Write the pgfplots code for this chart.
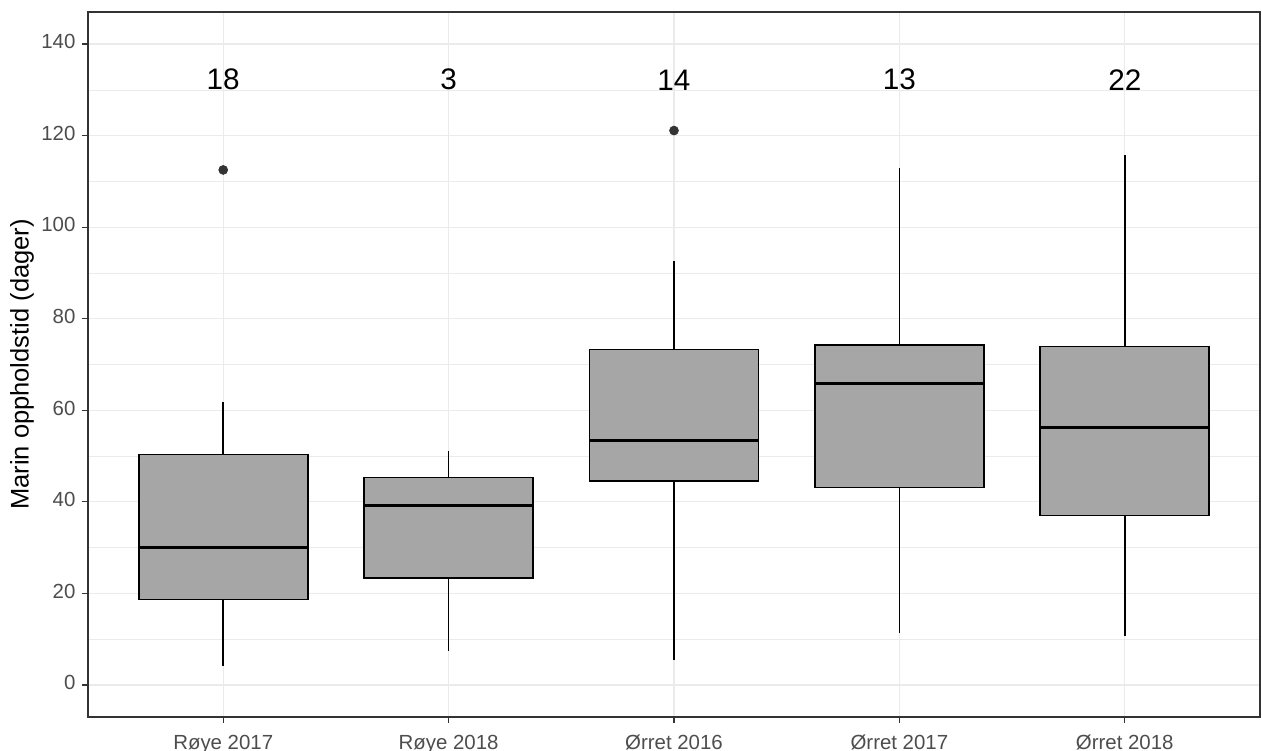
\documentclass[border=0pt]{standalone}
\usepackage{pgfplots}
\pgfplotsset{compat=1.18}
\usepgfplotslibrary{statistics}
\usepackage{fontspec}
\setmainfont{Liberation Sans}
\definecolor{gridc}{HTML}{EBEBEB}
\definecolor{boxc}{HTML}{A6A6A6}
\definecolor{tickc}{HTML}{4D4D4D}
\definecolor{framec}{HTML}{333333}
\pgfplotsset{
  mybox/.style={draw=black, line width=0.8bp, fill=boxc, mark=*, mark size=2.2bp,
    mark options={fill=framec, draw=framec, line width=0.4bp}},
}
\begin{document}
\begin{tikzpicture}
\useasboundingbox (-44bp,-17bp) rectangle (587bp,358.5bp);
\begin{axis}[
  scale only axis, width=586bp, height=352.5bp,
  xmin=0.4, xmax=5.6, ymin=-7, ymax=147,
  xtick={1,2,3,4,5},
  xticklabels={Røye 2017, Røye 2018, Ørret 2016, Ørret 2017, Ørret 2018},
  typeset ticklabels with strut,
  ytick={0,20,...,140}, minor ytick={10,30,...,130},
  grid=both,
  major grid style={gridc, line width=0.55bp},
  minor grid style={gridc, line width=0.3bp},
  axis line style={framec, line width=0.55bp},
  tick style={framec, line width=0.55bp},
  tick align=outside, tick pos=left,
  major tick length=2.75bp, minor tick length=0pt,
  tick label style={tickc, font=\fontsize{10.25}{12}\selectfont},
  xticklabel style={yshift=-1.5bp},
  /pgf/number format/assume math mode=true,
  ylabel={Marin oppholdstid (dager)},
  ylabel style={font=\fontsize{12.8}{14}\selectfont, at={(axis description cs:0,0.5)}, anchor=center, yshift=33bp},
  boxplot/draw direction=y,
  boxplot/box extend=0.75,
  boxplot/whisker extend=0,
  boxplot/every median/.style={line width=1.5bp},
]
\addplot[mybox, boxplot prepared={draw direction=y, draw position=1, lower whisker=4.2, lower quartile=18.7, median=30.0, upper quartile=50.3, upper whisker=61.8}]
  table[row sep=\\, y index=0] {data\\ 112.5\\};
\addplot[mybox, boxplot prepared={draw direction=y, draw position=2, lower whisker=7.4, lower quartile=23.3, median=39.3, upper quartile=45.3, upper whisker=51.1}]
  coordinates {};
\addplot[mybox, boxplot prepared={draw direction=y, draw position=3, lower whisker=5.5, lower quartile=44.6, median=53.4, upper quartile=73.3, upper whisker=92.7}]
  table[row sep=\\, y index=0] {data\\ 121.1\\};
\addplot[mybox, boxplot prepared={draw direction=y, draw position=4, lower whisker=11.3, lower quartile=43.1, median=65.9, upper quartile=74.3, upper whisker=112.9}]
  coordinates {};
\addplot[mybox, boxplot prepared={draw direction=y, draw position=5, lower whisker=10.6, lower quartile=37.0, median=56.2, upper quartile=73.9, upper whisker=115.8}]
  coordinates {};
\node[font=\fontsize{14.9}{16}\selectfont, text height=0.72em] at (axis cs:1,131.5) {18};
\node[font=\fontsize{14.9}{16}\selectfont, text height=0.72em] at (axis cs:2,131.5) {3};
\node[font=\fontsize{14.9}{16}\selectfont, text height=0.72em] at (axis cs:3,131.5) {14};
\node[font=\fontsize{14.9}{16}\selectfont, text height=0.72em] at (axis cs:4,131.5) {13};
\node[font=\fontsize{14.9}{16}\selectfont, text height=0.72em] at (axis cs:5,131.5) {22};
\end{axis}
\end{tikzpicture}
\end{document}
